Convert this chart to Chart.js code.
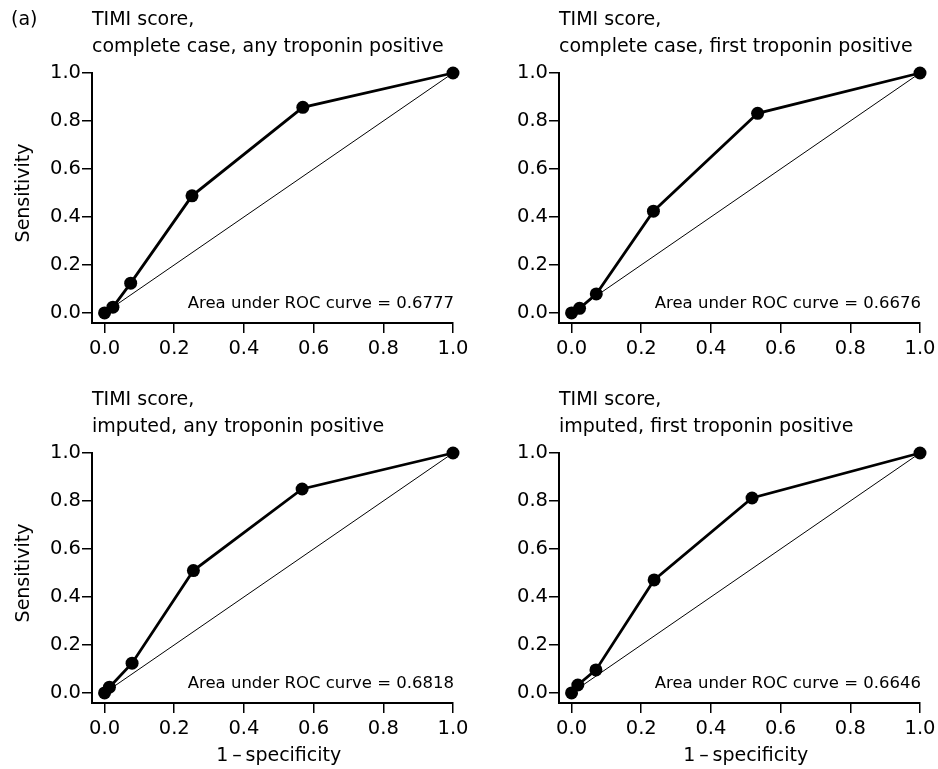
<!DOCTYPE html>
<html>
<head>
<meta charset="utf-8">
<script src="https://cdn.jsdelivr.net/npm/chart.js@4.4.1/dist/chart.umd.min.js"></script>
<style>
  body { margin: 0; background: #fff; }
  #wrap { position: relative; width: 938px; height: 769px; }
  canvas { position: absolute; }
</style>
</head>
<body>
<div id="wrap">
  <canvas id="c1" width="469" height="380" style="left:0;top:0"></canvas>
  <canvas id="c2" width="469" height="380" style="left:469px;top:0"></canvas>
  <canvas id="c3" width="469" height="389" style="left:0;top:380px"></canvas>
  <canvas id="c4" width="469" height="389" style="left:469px;top:380px"></canvas>
</div>
<script>
// --- Datos ---
const ticksEje = [0, 0.2, 0.4, 0.6, 0.8, 1.0];
const diagonal = [0, 1];

const titulo1 = "TIMI score,";
const subtitulos = [
  "complete case, any troponin positive",
  "complete case, first troponin positive",
  "imputed, any troponin positive",
  "imputed, first troponin positive"
];
const aucs = ["0.6777", "0.6676", "0.6818", "0.6646"];

// 1 - especificidad y sensibilidad de cada panel
const fprCompletoCualquiera = [0, 0.024, 0.075, 0.251, 0.569, 1];
const sensCompletoCualquiera = [0, 0.024, 0.124, 0.488, 0.857, 1];
const fprCompletoPrimera = [0, 0.023, 0.071, 0.235, 0.534, 1];
const sensCompletoPrimera = [0, 0.019, 0.079, 0.424, 0.832, 1];
const fprImputadoCualquiera = [0, 0.014, 0.079, 0.255, 0.567, 1];
const sensImputadoCualquiera = [0, 0.024, 0.124, 0.510, 0.850, 1];
const fprImputadoPrimera = [0, 0.018, 0.070, 0.237, 0.518, 1];
const sensImputadoPrimera = [0, 0.033, 0.096, 0.471, 0.8125, 1];

const FUENTE = "'DejaVu Sans', sans-serif";

// --- Textos extra: AUC, ejes, letra del panel ---
const etiquetas = {
  id: "etiquetas",
  afterDraw(chart, args, opts) {
    const ctx = chart.ctx;
    const sx = chart.scales.x, sy = chart.scales.y;
    ctx.save();
    ctx.fillStyle = "#000";
    ctx.textBaseline = "middle";

    ctx.font = "16.5px " + FUENTE;
    ctx.textAlign = "right";
    ctx.fillText("Area under ROC curve = " + opts.auc, sx.getPixelForValue(1) + 1, sy.getPixelForValue(0.038));

    ctx.font = "19px " + FUENTE;
    if (opts.ejeX) {
      ctx.textAlign = "center";
      ctx.fillText("1\u2009\u2013\u2009specificity", sx.getPixelForValue(0.5), chart.height - 13);
    }
    if (opts.ejeY) {
      ctx.translate(24, sy.getPixelForValue(0.5));
      ctx.rotate(-Math.PI / 2);
      ctx.textAlign = "center";
      ctx.fillText("Sensitivity", 0, 0);
      ctx.setTransform(1, 0, 0, 1, 0, 0);
    }
    if (opts.letra) {
      ctx.textAlign = "left";
      ctx.fillText(opts.letra, 11, 20);
    }
    ctx.restore();
  }
};

function puntos(xs, ys) {
  return xs.map((v, i) => ({ x: v, y: ys[i] }));
}

// sin relleno extra por las etiquetas de los extremos
function sinRelleno(s) {
  s.paddingLeft = 0;
  s.paddingRight = 0;
  s.paddingTop = 0;
  s.paddingBottom = 0;
}

// --- Un panel ROC ---
function panel(id, fpr, sens, idx, anchoY, altoX, padDer, ejeX, ejeY, letra) {
  const ctx = document.getElementById(id).getContext("2d");
  return new Chart(ctx, {
    type: "line",
    data: {
      datasets: [
        {
          data: puntos(fpr, sens),
          borderColor: "#000",
          borderWidth: 2.8,
          pointRadius: 6.5,
          pointBackgroundColor: "#000",
          pointBorderColor: "#000",
          pointBorderWidth: 0,
          tension: 0,
          clip: false,
          order: 1
        },
        {
          data: puntos(diagonal, diagonal),
          borderColor: "#000",
          borderWidth: 1,
          pointRadius: 0,
          clip: false,
          order: 2
        }
      ]
    },
    options: {
      responsive: false,
      animation: false,
      events: [],
      layout: { padding: { left: 0, right: padDer, top: 0, bottom: 0 } },
      plugins: {
        legend: { display: false },
        tooltip: { enabled: false },
        title: {
          display: true,
          text: [titulo1, subtitulos[idx]],
          align: "start",
          fullSize: false,
          color: "#000",
          font: { family: FUENTE, size: 19, weight: "normal", lineHeight: 27 / 19 },
          padding: { top: 6.5, bottom: 12.5 }
        },
        etiquetas: { auc: aucs[idx], ejeX, ejeY, letra }
      },
      scales: {
        x: {
          type: "linear",
          min: -0.036,
          max: 1.0,
          afterBuildTicks: s => { s.ticks = ticksEje.map(v => ({ value: v })); },
          afterFit: s => { s.height = altoX; sinRelleno(s); },
          ticks: {
            color: "#000",
            padding: 4,
            font: { family: FUENTE, size: 19.5 },
            callback: v => v.toFixed(1)
          },
          grid: { drawOnChartArea: false, drawTicks: true, tickLength: 10, color: "#000", lineWidth: 1.5 },
          border: { display: true, color: "#000", width: 2 }
        },
        y: {
          type: "linear",
          min: -0.042,
          max: 1.0,
          afterBuildTicks: s => { s.ticks = ticksEje.map(v => ({ value: v })); },
          afterFit: s => { s.width = anchoY; sinRelleno(s); },
          ticks: {
            color: "#000",
            padding: 1,
            font: { family: FUENTE, size: 19.5 },
            callback: v => v.toFixed(1)
          },
          grid: { drawOnChartArea: false, drawTicks: true, tickLength: 10, color: "#000", lineWidth: 1.5 },
          border: { display: true, color: "#000", width: 2 }
        }
      }
    },
    plugins: [etiquetas]
  });
}

panel("c1", fprCompletoCualquiera, sensCompletoCualquiera, 0, 92, 57, 16, false, true, "(a)");
panel("c2", fprCompletoPrimera, sensCompletoPrimera, 1, 90, 57, 18, false, false, null);
panel("c3", fprImputadoCualquiera, sensImputadoCualquiera, 2, 92, 66, 16, true, true, null);
panel("c4", fprImputadoPrimera, sensImputadoPrimera, 3, 90, 66, 18, true, false, null);
</script>
</body>
</html>
